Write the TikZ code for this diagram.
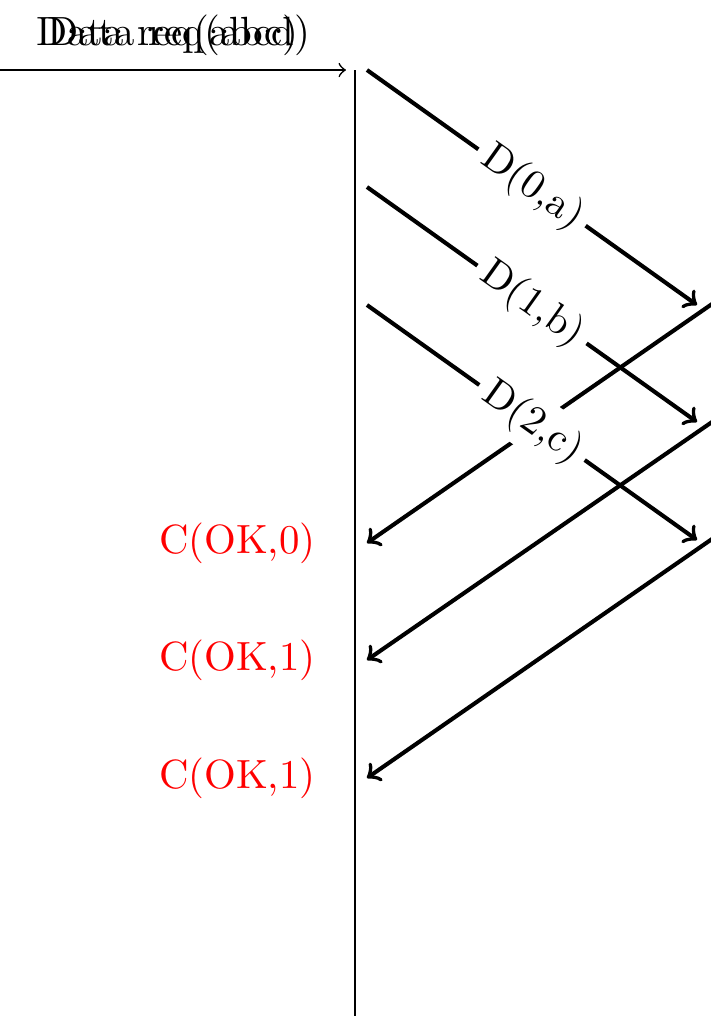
\documentclass[tikz,border=0pt]{standalone}
\begin{document}
\begin{tikzpicture}[x=0.245pt,y=-0.245pt,
  msg/.style={->,line width=1pt},
  lbl/.style={sloped,fill=white,inner sep=2pt},
  ack/.style={anchor=east,text=red}]
\useasboundingbox (0,0) rectangle (711,1016);
% input arrow
\coordinate (in) at (0,70);
\coordinate (inEnd) at (346,70);
\draw[->] (in) -- (inEnd)
  node[midway,above] (req1) {Data req(abc)}
  node[midway,above] (req2) {Data req(abcd)};
% time line
\coordinate (top) at (355,70);
\coordinate (bot) at (355,1016);
\draw (top) -- (bot);
% acknowledgement arrows
\coordinate (c0s) at (712,304);
\coordinate (c0e) at (367,543);
\coordinate (c1s) at (712,422);
\coordinate (c1e) at (367,660);
\coordinate (c2s) at (712,539);
\coordinate (c2e) at (367,778);
\draw[msg] (c0s) -- (c0e);
\draw[msg] (c1s) -- (c1e);
\draw[msg] (c2s) -- (c2e);
% data arrows
\coordinate (d0s) at (367,70);
\coordinate (d0e) at (697,305);
\coordinate (d1s) at (367,187);
\coordinate (d1e) at (697,422);
\coordinate (d2s) at (367,305);
\coordinate (d2e) at (697,540);
\draw[msg] (d0s) -- (d0e) node[midway,lbl] (l0) {D(0,a)};
\draw[msg] (d1s) -- (d1e) node[midway,lbl] (l1) {D(1,b)};
\draw[msg] (d2s) -- (d2e) node[midway,lbl] (l2) {D(2,c)};
% ack labels
\node[ack] (a0) at (330,543) {C(OK,0)};
\node[ack] (a1) at (330,660) {C(OK,1)};
\node[ack] (a2) at (330,778) {C(OK,1)};
\end{tikzpicture}
\end{document}
